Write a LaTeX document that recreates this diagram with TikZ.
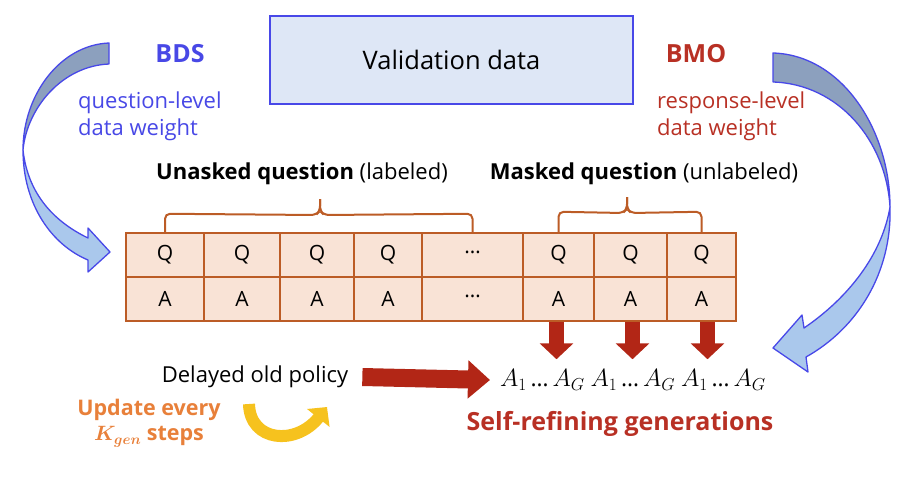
\documentclass[tikz,border=0pt]{standalone}
\usepackage{fontspec}
\usepackage{bm}
\setmainfont{Open Sans}
\usetikzlibrary{arrows.meta,calc}
\definecolor{vfill}{RGB}{222,231,246}
\definecolor{vblue}{RGB}{72,72,232}
\definecolor{bdsblue}{RGB}{72,72,230}
\definecolor{bmored}{RGB}{184,48,36}
\definecolor{tabfill}{RGB}{249,227,214}
\definecolor{tabbrd}{RGB}{188,92,38}
\definecolor{redarr}{RGB}{178,38,22}
\definecolor{updorange}{RGB}{232,128,58}
\definecolor{yarr}{RGB}{246,194,30}
\definecolor{darkband}{RGB}{140,160,190}
\definecolor{lightband}{RGB}{170,200,236}
\newcommand{\fsz}[1]{\fontsize{#1}{#1}\selectfont}
\newcommand{\tdots}{\raisebox{0.28em}{…}}
\newcommand{\agroup}{$A_1$\,…\,$A_G$}
\begin{document}
\begin{tikzpicture}[x=1pt,y=-1pt,
  cell/.style={draw=tabbrd, fill=tabfill, line width=2.5pt, minimum height=44pt, inner sep=0pt, font=\fsz{21}},
  bigred/.style={draw=redarr, line width=18pt, -{Triangle[length=22pt,width=37pt]}},
  downred/.style={draw=redarr, line width=15pt, -{Triangle[length=16pt,width=33pt]}},
  brace/.style={draw=tabbrd, line width=2pt, rounded corners=5pt},
  curvarr/.style={draw=vblue, line width=1.3pt, line join=round},
  txt/.style={inner sep=0pt}
]
\useasboundingbox (0,0) rectangle (918,490);

% Validation data
\node[draw=vblue, fill=vfill, line width=2.2pt, minimum width=363pt, minimum height=88pt, font=\fsz{25.5}] (val) at (451.5,60) {Validation data};

% BDS / BMO labels
\node[txt, text=bdsblue, font=\fsz{25}\bfseries] (bds) at (180,54) {BDS};
\node[txt, text=bdsblue, font=\fsz{22}, anchor=north west, align=left] (qlw) at (78,92) {question-level\\[5pt]data weight};
\node[txt, text=bmored, font=\fsz{25}\bfseries] (bmo) at (696,54) {BMO};
\node[txt, text=bmored, font=\fsz{22}, anchor=north west, align=left] (rlw) at (657,92) {response-level\\[5pt]data weight};

% left curved arrow
\path[curvarr, fill=darkband] (109,43) .. controls (60,45) and (23,95) .. (23,150)
   .. controls (27,108) and (62,66) .. (109,64) -- cycle;
\path[curvarr, fill=lightband] (23,150) .. controls (23,205) and (52,245) .. (88,260)
   -- (88,272) -- (110,252) -- (88,228) -- (88,238)
   .. controls (55,222) and (28,195) .. (23,150) -- cycle;

% right curved arrow
\path[curvarr, fill=darkband] (773,53) .. controls (842,55) and (890,130) .. (890,207)
   .. controls (886,140) and (838,84) .. (773,82) -- cycle;
\path[curvarr, fill=lightband] (890,207) .. controls (892,272) and (858,328) .. (806,357)
   -- (808,372) -- (773,348) -- (802,315) -- (804,328)
   .. controls (848,298) and (882,255) .. (890,207) -- cycle;

% table
\node[cell, minimum width=78pt] (q1) at (165,255) {Q};
\node[cell, minimum width=76pt] (q2) at (242,255) {Q};
\node[cell, minimum width=74pt] (q3) at (317,255) {Q};
\node[cell, minimum width=68pt] (q4) at (388,255) {Q};
\node[cell, minimum width=101pt] (q5) at (472.5,255) {\tdots};
\node[cell, minimum width=71pt] (q6) at (558.5,255) {Q};
\node[cell, minimum width=73pt] (q7) at (630.5,255) {Q};
\node[cell, minimum width=69pt] (q8) at (701.5,255) {Q};
\node[cell, minimum width=78pt] (a1) at (165,299) {A};
\node[cell, minimum width=76pt] (a2) at (242,299) {A};
\node[cell, minimum width=74pt] (a3) at (317,299) {A};
\node[cell, minimum width=68pt] (a4) at (388,299) {A};
\node[cell, minimum width=101pt] (a5) at (472.5,299) {\tdots};
\node[cell, minimum width=71pt] (a6) at (558.5,299) {A};
\node[cell, minimum width=73pt] (a7) at (630.5,299) {A};
\node[cell, minimum width=69pt] (a8) at (701.5,299) {A};

% braces
\draw[brace] (q1.north) -- ++(0,-18) -- (316,215) -- (320,211) -- (320,199);
\draw[brace] (q5.north) -- ++(0,-18) -- (324,215) -- (320,211) -- (320,199);
\draw[brace] (q6.north) -- ++(0,-20) -- (623,213) -- (627,209) -- (627,197);
\draw[brace] (q8.north) -- ++(0,-20) -- (631,213) -- (627,209) -- (627,197);

% brace labels
\node[txt, font=\fsz{22}] (unl) at (302,174) {\textbf{Unasked question} (labeled)};
\node[txt, font=\fsz{22}] (msk) at (644,174) {\textbf{Masked question} (unlabeled)};

% bottom
\node[txt, font=\fsz{22}] (pol) at (255,377) {Delayed old policy};
\node[txt, font=\fsz{23}, anchor=west] (gens) at (500,380) {\agroup\ \agroup\ \agroup};
\node[txt, text=bmored, font=\fsz{25}\bfseries] (self) at (620,424) {Self-refining generations};
\node[txt, text=updorange, font=\fsz{21.5}\bfseries, align=center] (upd) at (149,423) {Update every\\[4pt]$\bm{K_{gen}}$ steps};

\draw[bigred] ([xshift=14pt]pol.east) -- ([xshift=-10pt]gens.west);
\draw[downred] ([xshift=-2pt]a6.south) -- ++(0,37);
\draw[downred] ([xshift=2pt]a7.south) -- ++(0,37);
\draw[downred] ([xshift=6pt]a8.south) -- ++(0,37);

% yellow update arrow
\coordinate (ys) at (249,404);
\coordinate (ye) at (327,407);
\draw[draw=yarr, line width=12pt, -{Triangle[length=14pt,width=28pt]}] (ys) .. controls (250,442) and (296,446) .. (ye);
\end{tikzpicture}
\end{document}
